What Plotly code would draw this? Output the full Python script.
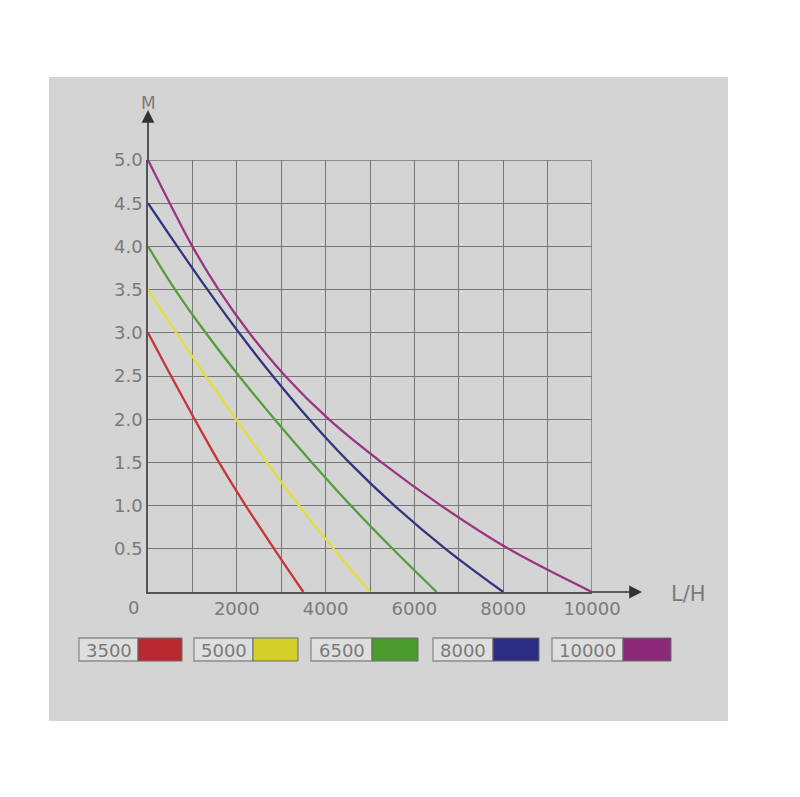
import plotly.graph_objects as go

# ---- data ----
series_names = ["3500", "5000", "6500", "8000", "10000"]
series_colors = ["#c8343a", "#e2de3c", "#52a038", "#34357f", "#9a3582"]
legend_colors = ["#b82a30", "#d4d02a", "#4a9a2e", "#2c2c82", "#8c2a7a"]

flow_3500 = [0, 520, 1050, 1600, 2200, 2840, 3500]
head_3500 = [3.0, 2.5, 2.0, 1.5, 1.0, 0.5, 0.0]

flow_5000 = [0, 640, 1300, 1980, 2680, 3400, 4180, 5000]
head_5000 = [3.5, 3.0, 2.5, 2.0, 1.5, 1.0, 0.5, 0.0]

flow_6500 = [0, 610, 1300, 2050, 2850, 3690, 4570, 5510, 6500]
head_6500 = [4.0, 3.5, 3.0, 2.5, 2.0, 1.5, 1.0, 0.5, 0.0]

flow_8000 = [0, 660, 1340, 2050, 2810, 3630, 4530, 5550, 6700, 8000]
head_8000 = [4.5, 4.0, 3.5, 3.0, 2.5, 2.0, 1.5, 1.0, 0.5, 0.0]

flow_10000 = [0, 490, 1000, 1590, 2280, 3090, 4070, 5260, 6600, 8120, 10000]
head_10000 = [5.0, 4.5, 4.0, 3.5, 3.0, 2.5, 2.0, 1.5, 1.0, 0.5, 0.0]

x_tick_vals = [2000, 4000, 6000, 8000, 10000]
x_tick_text = ["2000", "4000", "6000", "8000", "10000"]
y_tick_vals = [0.5, 1.0, 1.5, 2.0, 2.5, 3.0, 3.5, 4.0, 4.5, 5.0]
y_tick_text = ["0.5", "1.0", "1.5", "2.0", "2.5", "3.0", "3.5", "4.0", "4.5", "5.0"]

flows = [flow_3500, flow_5000, flow_6500, flow_8000, flow_10000]
heads = [head_3500, head_5000, head_6500, head_8000, head_10000]

# ---- layout geometry (reference pixels; page body has an 8px margin) ----
OFF = 8
W, H = 800 - OFF, 797 - OFF
L, R, T, B = 148, 592, 160, 592
PW, PH = R - L, B - T


def px(p):
    return (p - L) / PW


def py(p):
    return (B - p) / PH


TEXT = "#7a7a7a"
GRID = "#767676"
FONT = "DejaVu Sans"
FS = 18

fig = go.Figure()
for name, fx, hy, col in zip(series_names, flows, heads, series_colors):
    fig.add_trace(go.Scatter(x=fx, y=hy, mode="lines", name=name,
                             line=dict(color=col, width=2.3, shape="spline", smoothing=1.0),
                             showlegend=False, hoverinfo="skip"))

shapes = []
# photo background
shapes.append(dict(type="rect", xref="paper", yref="paper", layer="below",
                   x0=px(49), x1=px(728), y0=py(721), y1=py(77),
                   fillcolor="#d4d4d4", line=dict(width=0)))

annotations = []
# axis arrows
annotations.append(dict(xref="paper", yref="paper", x=px(642), y=0, ax=-52, ay=0,
                        axref="pixel", ayref="pixel", text="", showarrow=True,
                        arrowhead=2, arrowsize=1.6, arrowwidth=1.6, arrowcolor="#333333"))
annotations.append(dict(xref="paper", yref="paper", x=0, y=py(110), ax=0, ay=52,
                        axref="pixel", ayref="pixel", text="", showarrow=True,
                        arrowhead=2, arrowsize=1.6, arrowwidth=1.6, arrowcolor="#333333"))
annotations.append(dict(xref="paper", yref="paper", x=px(148), y=py(103), text="M",
                        xanchor="center", yanchor="middle", showarrow=False,
                        font=dict(family=FONT, size=17, color=TEXT)))
annotations.append(dict(xref="paper", yref="paper", x=px(688), y=py(594), text="L/H",
                        xanchor="center", yanchor="middle", showarrow=False,
                        font=dict(family=FONT, size=21, color=TEXT)))
annotations.append(dict(xref="paper", yref="paper", x=px(133), y=py(607), text="0",
                        xanchor="center", yanchor="middle", showarrow=False,
                        font=dict(family=FONT, size=FS, color=TEXT)))

# custom legend boxes
legend_boxes = [(79, 138, 182), (194, 253, 298), (311, 372, 418), (433, 493, 539), (552, 623, 671)]
for (a, b, c), name, col in zip(legend_boxes, series_names, legend_colors):
    y0, y1 = 638, 661
    shapes.append(dict(type="rect", xref="paper", yref="paper", x0=px(a), x1=px(b),
                       y0=py(y1), y1=py(y0), fillcolor="#dedede",
                       line=dict(color="#8a8a8a", width=1.3)))
    shapes.append(dict(type="rect", xref="paper", yref="paper", x0=px(b), x1=px(c),
                       y0=py(y1), y1=py(y0), fillcolor=col,
                       line=dict(color="#6a6a6a", width=1)))
    annotations.append(dict(xref="paper", yref="paper", x=px((a + b) / 2), y=py(650),
                            text=name, xanchor="center", yanchor="middle", showarrow=False,
                            font=dict(family=FONT, size=FS, color=TEXT)))

fig.update_layout(
    width=W, height=H,
    margin=dict(l=L - OFF, r=W - (R - OFF), t=T - OFF, b=H - (B - OFF), pad=0),
    paper_bgcolor="white", plot_bgcolor="rgba(0,0,0,0)",
    shapes=shapes, annotations=annotations, showlegend=False,
    font=dict(family=FONT, color=TEXT),
)
fig.update_xaxes(range=[0, 10000], tickvals=x_tick_vals, ticktext=x_tick_text,
                 showgrid=True, gridcolor=GRID, gridwidth=1.4,
                 minor=dict(dtick=1000, tick0=0, showgrid=True, gridcolor=GRID, gridwidth=1.4),
                 showline=True, linecolor="#555555", linewidth=1.6, mirror=False,
                 zeroline=False, ticks="", tickfont=dict(family=FONT, size=FS, color=TEXT))
fig.update_yaxes(range=[0, 5.0], tickvals=y_tick_vals, ticktext=y_tick_text,
                 showgrid=True, gridcolor=GRID, gridwidth=1.4,
                 showline=True, linecolor="#555555", linewidth=1.6,
                 zeroline=False, ticks="", tickfont=dict(family=FONT, size=FS, color=TEXT))
# right and top border lines of grid
fig.add_shape(type="line", xref="x", yref="y", x0=10000, x1=10000, y0=0, y1=5.0,
              line=dict(color=GRID, width=1.4))
fig.add_shape(type="line", xref="x", yref="y", x0=0, x1=10000, y0=5.0, y1=5.0,
              line=dict(color=GRID, width=1.4))

fig.write_html("out.html")
